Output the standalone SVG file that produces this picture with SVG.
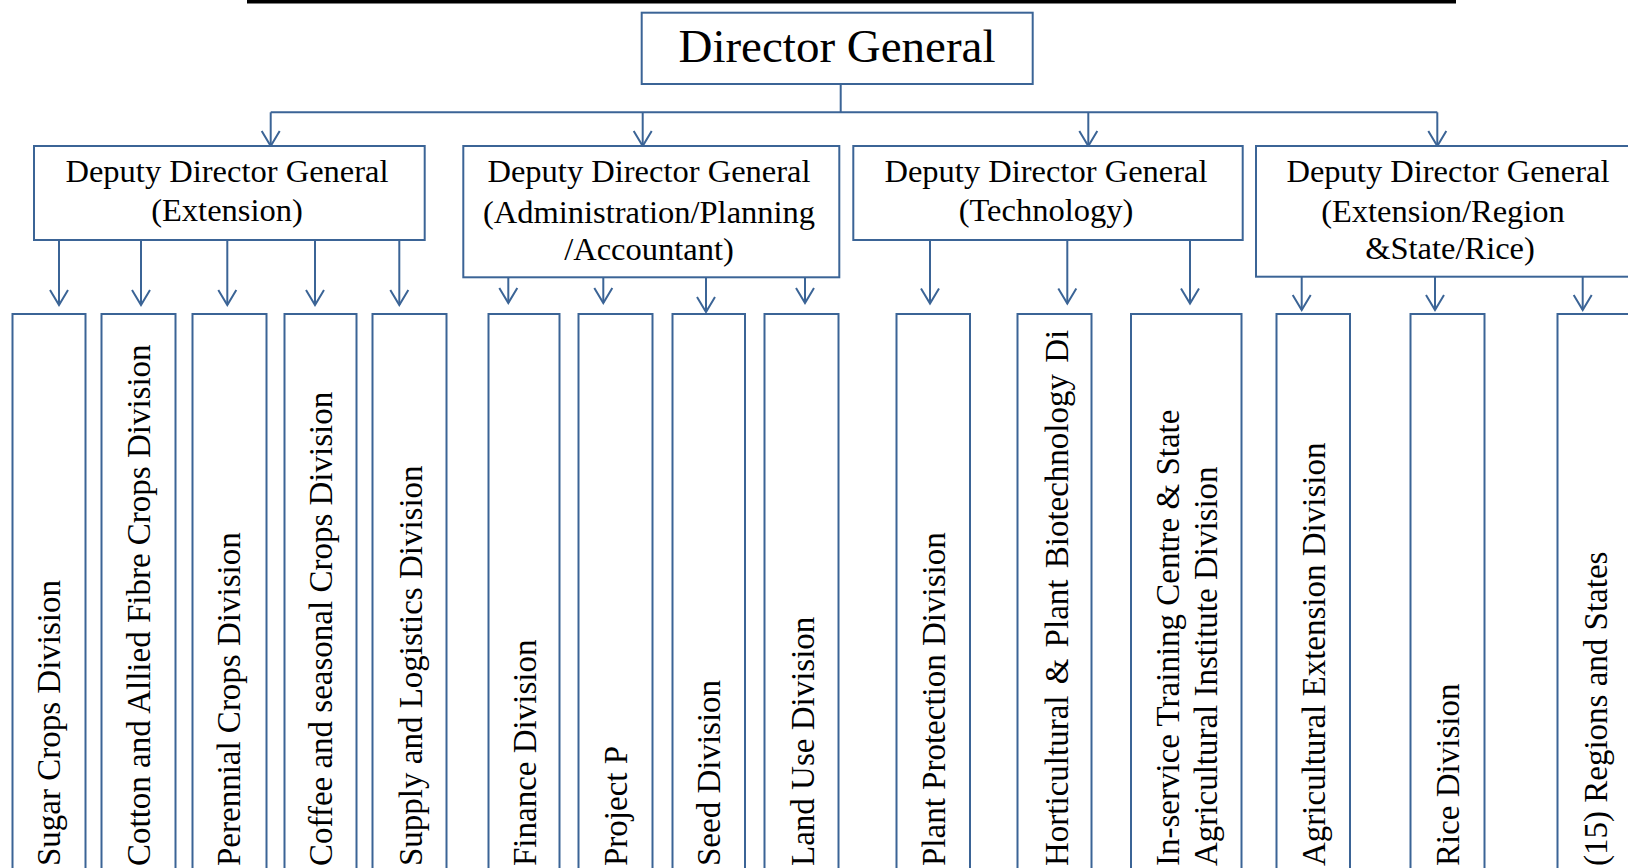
<svg xmlns="http://www.w3.org/2000/svg" width="1628" height="868" viewBox="0 0 1628 868">
<style>
.box{fill:#fff;stroke:#3B6496;stroke-width:2}
.ln{fill:none;stroke:#3B6496;stroke-width:2}
.t{font-family:"Liberation Serif","Times New Roman",serif;fill:#000}
.dg{font-size:47px;text-anchor:middle}
.dd{font-size:32.5px;text-anchor:middle}
.lf{font-size:33px}
</style>
<defs>
<marker id="ah" markerUnits="userSpaceOnUse" viewBox="-17 -11 19 22" refX="0" refY="0" markerWidth="19" markerHeight="22" orient="auto">
<path d="M-15,-9 L0,0 L-15,9" fill="none" stroke="#3B6496" stroke-width="2"/>
</marker>
</defs>
<rect x="247" y="-1" width="1209" height="4.5" fill="#000"/>
<g id="connectors">
<path class="ln" d="M840.7,84 V112.3 M270.7,112.3 H1437.3"/>
<path class="ln" marker-end="url(#ah)" d="M270.7,112.3 V146"/>
<path class="ln" marker-end="url(#ah)" d="M642.7,112.3 V146"/>
<path class="ln" marker-end="url(#ah)" d="M1088.3,112.3 V146"/>
<path class="ln" marker-end="url(#ah)" d="M1437.3,112.3 V146"/>
<path class="ln" marker-end="url(#ah)" d="M59,240 V305"/>
<path class="ln" marker-end="url(#ah)" d="M141,240 V305"/>
<path class="ln" marker-end="url(#ah)" d="M227.3,240 V305"/>
<path class="ln" marker-end="url(#ah)" d="M315,240 V305"/>
<path class="ln" marker-end="url(#ah)" d="M399.3,240 V305"/>
<path class="ln" marker-end="url(#ah)" d="M508.3,277 V303"/>
<path class="ln" marker-end="url(#ah)" d="M603.3,277 V303"/>
<path class="ln" marker-end="url(#ah)" d="M706,277 V312"/>
<path class="ln" marker-end="url(#ah)" d="M805,277 V303"/>
<path class="ln" marker-end="url(#ah)" d="M930,240 V303.5"/>
<path class="ln" marker-end="url(#ah)" d="M1067.3,240 V303.5"/>
<path class="ln" marker-end="url(#ah)" d="M1190,240 V303.5"/>
<path class="ln" marker-end="url(#ah)" d="M1301.7,277 V310"/>
<path class="ln" marker-end="url(#ah)" d="M1435,271.7 V310"/>
<path class="ln" marker-end="url(#ah)" d="M1582.7,271.7 V310"/>
</g>
<g id="director-general">
<rect class="box" x="641.7" y="12.7" width="391" height="71.3"/>
<text class="t dg" x="837" y="61.7">Director General</text>
</g>
<g id="ddg-extension">
<rect class="box" x="34" y="146" width="390.7" height="94"/>
<text class="t dd" x="227" y="182">Deputy Director General</text>
<text class="t dd" x="227" y="221">(Extension)</text>
</g>
<g id="ddg-administration">
<rect class="box" x="463.3" y="146" width="376" height="131.3"/>
<text class="t dd" x="649" y="182">Deputy Director General</text>
<text class="t dd" x="649" y="223">(Administration/Planning</text>
<text class="t dd" x="649" y="260">/Accountant)</text>
</g>
<g id="ddg-technology">
<rect class="box" x="853.3" y="146" width="389.4" height="94"/>
<text class="t dd" x="1046" y="182">Deputy Director General</text>
<text class="t dd" x="1046" y="221">(Technology)</text>
</g>
<g id="ddg-extension-region">
<rect class="box" x="1256" y="146" width="400" height="130.7"/>
<text class="t dd" x="1448" y="182">Deputy Director General</text>
<text class="t dd" x="1443" y="222">(Extension/Region</text>
<text class="t dd" x="1450" y="259">&amp;State/Rice)</text>
</g>
<g id="sugar-crops"><rect class="box" x="12.5" y="314" width="73" height="580"/><text class="t lf" transform="translate(60,866) rotate(-90)">Sugar Crops Division</text></g>
<g id="cotton"><rect class="box" x="101.5" y="314" width="74" height="580"/><text class="t lf" transform="translate(150,866) rotate(-90)">Cotton and Allied Fibre Crops Division</text></g>
<g id="perennial"><rect class="box" x="192.5" y="314" width="74" height="580"/><text class="t lf" transform="translate(240,866) rotate(-90)">Perennial Crops Division</text></g>
<g id="coffee"><rect class="box" x="284.5" y="314" width="72" height="580"/><text class="t lf" transform="translate(332,866) rotate(-90)">Coffee and seasonal Crops Division</text></g>
<g id="supply"><rect class="box" x="372.5" y="314" width="74" height="580"/><text class="t lf" transform="translate(422,866) rotate(-90)">Supply and Logistics Division</text></g>
<g id="finance"><rect class="box" x="488.5" y="314" width="71" height="580"/><text class="t lf" transform="translate(535.5,866) rotate(-90)">Finance Division</text></g>
<g id="project"><rect class="box" x="578.5" y="314" width="74" height="580"/><text class="t lf" transform="translate(627,866) rotate(-90)">Project P</text></g>
<g id="seed"><rect class="box" x="672.5" y="314" width="72.5" height="580"/><text class="t lf" transform="translate(720,866) rotate(-90)">Seed Division</text></g>
<g id="land-use"><rect class="box" x="764.5" y="314" width="74" height="580"/><text class="t lf" transform="translate(814,866) rotate(-90)">Land Use Division</text></g>
<g id="plant-protection"><rect class="box" x="896.5" y="314" width="73.5" height="580"/><text class="t lf" transform="translate(945,866) rotate(-90)">Plant Protection Division</text></g>
<g id="horticultural"><rect class="box" x="1017.5" y="314" width="74" height="580"/><text class="t lf" word-spacing="3" transform="translate(1068,866) rotate(-90)">Horticultural &amp; Plant Biotechnology Di</text></g>
<g id="in-service"><rect class="box" x="1131" y="314" width="110.5" height="580"/><text class="t lf" transform="translate(1179,866) rotate(-90)">In-service Training Centre &amp; State</text><text class="t lf" transform="translate(1216.5,866) rotate(-90)">Agricultural Institute Division</text></g>
<g id="agricultural-extension"><rect class="box" x="1276.5" y="314" width="73.5" height="580"/><text class="t lf" transform="translate(1324.5,866) rotate(-90)">Agricultural Extension Division</text></g>
<g id="rice"><rect class="box" x="1410.5" y="314" width="74" height="580"/><text class="t lf" transform="translate(1458.5,866) rotate(-90)">Rice Division</text></g>
<g id="regions-states"><rect class="box" x="1557.5" y="314" width="80" height="580"/><text class="t lf" transform="translate(1607,866) rotate(-90)">(15) Regions and States</text></g>
</svg>
